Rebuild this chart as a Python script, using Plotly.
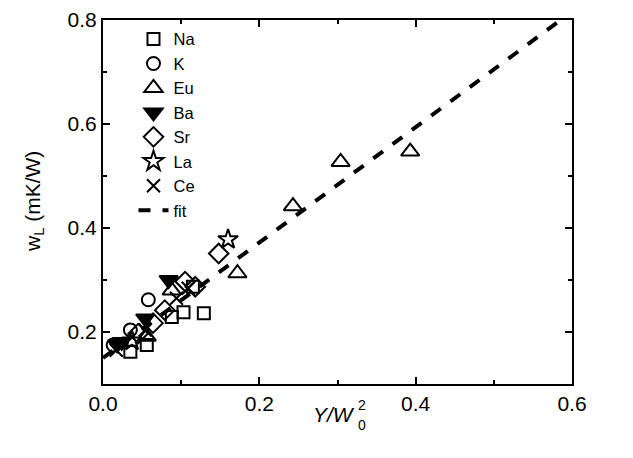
import plotly.graph_objects as go
import numpy as np

# ---- data ----
na_x = [0.035, 0.056, 0.088, 0.103, 0.129, 0.115]
na_y = [0.162, 0.175, 0.229, 0.238, 0.236, 0.287]

k_x = [0.013, 0.035, 0.058]
k_y = [0.175, 0.204, 0.262]

eu_x = [0.056, 0.088, 0.172, 0.243, 0.304, 0.393]
eu_y = [0.191, 0.280, 0.313, 0.442, 0.527, 0.547]

ba_x = [0.018, 0.024, 0.054, 0.084]
ba_y = [0.176, 0.181, 0.226, 0.300]

sr_x = [0.045, 0.064, 0.079, 0.105, 0.118, 0.148]
sr_y = [0.197, 0.217, 0.242, 0.297, 0.287, 0.351]

la_x = [0.037, 0.160]
la_y = [0.183, 0.378]

ce_x = [0.017, 0.054, 0.094, 0.109]
ce_y = [0.165, 0.204, 0.265, 0.284]

fit_intercept = 0.150
fit_slope = 1.11
fit_xrange = [0.0, 0.6]

x_ticks = [0.0, 0.2, 0.4, 0.6]
y_ticks = [0.2, 0.4, 0.6, 0.8]

# ---- figure ----
fig = go.Figure()

def add(xs, ys, name, symbol, size):
    fig.add_trace(go.Scatter(
        x=xs, y=ys, mode="markers", name=name,
        marker=dict(symbol=symbol, size=size, color="black",
                    line=dict(color="black", width=2)),
    ))

add(na_x, na_y, "Na", "square-open", 12)
add(k_x, k_y, "K", "circle-open", 13)
add(eu_x, eu_y, "Eu", "triangle-up-open", 16)
add(ba_x, ba_y, "Ba", "triangle-down", 16)
add(sr_x, sr_y, "Sr", "diamond-open", 15)
add(la_x, la_y, "La", "star-open", 15)
add(ce_x, ce_y, "Ce", "x-thin-open", 13)

fx = np.array(fit_xrange)
fig.add_trace(go.Scatter(
    x=fx, y=fit_intercept + fit_slope * fx, mode="lines", name="fit",
    line=dict(color="black", width=4, dash="dash"),
))

font = "Liberation Sans, Arial, sans-serif"
axis_common = dict(
    showline=True, linecolor="black", linewidth=2, mirror="ticks",
    ticks="inside", ticklen=7, tickwidth=2, tickcolor="black",
    showgrid=False, zeroline=False, automargin=False,
    tickfont=dict(family=font, size=21, color="black"),
    minor=dict(ticks="inside", ticklen=4, tickwidth=2, tickcolor="black"),
)

fig.update_xaxes(range=[0, 0.6], tickvals=x_ticks, ticktext=["0.0", "0.2", "0.4", "0.6"],
                 minor_dtick=0.1, minor_tick0=0, **axis_common)
fig.update_yaxes(range=[0.1, 0.8], tickvals=y_ticks, ticktext=["0.2", "0.4", "0.6", "0.8"],
                 minor_dtick=0.1, minor_tick0=0.1, **axis_common)

# axis titles as annotations (stacked sub/superscript on the x title)
tf = dict(family=font, size=21, color="black")
sf = dict(family=font, size=14, color="black")
fig.add_annotation(text="<i>Y/W</i>", xref="paper", yref="paper", x=0, y=0,
                   xanchor="right", yanchor="middle", xshift=254, yshift=-30,
                   showarrow=False, font=tf)
fig.add_annotation(text="2", xref="paper", yref="paper", x=0, y=0,
                   xanchor="left", yanchor="middle", xshift=253, yshift=-21,
                   showarrow=False, font=sf)
fig.add_annotation(text="0", xref="paper", yref="paper", x=0, y=0,
                   xanchor="left", yanchor="middle", xshift=253, yshift=-41,
                   showarrow=False, font=sf)
fig.add_annotation(text="w<sub>L</sub> (mK/W)", xref="paper", yref="paper", x=0, y=0.5,
                   xanchor="center", yanchor="middle", xshift=-69, textangle=-90,
                   showarrow=False, font=tf)

fig.update_layout(
    width=633, height=458,
    margin=dict(l=95, r=69, t=12, b=82),
    plot_bgcolor="white", paper_bgcolor="white",
    font=dict(family=font, color="black"),
    legend=dict(x=0.065, y=0.995, xanchor="left", yanchor="top",
                bgcolor="rgba(0,0,0,0)", font=dict(family=font, size=16.5),
                itemwidth=30, tracegroupgap=0),
)

fig.write_html("out.html")
